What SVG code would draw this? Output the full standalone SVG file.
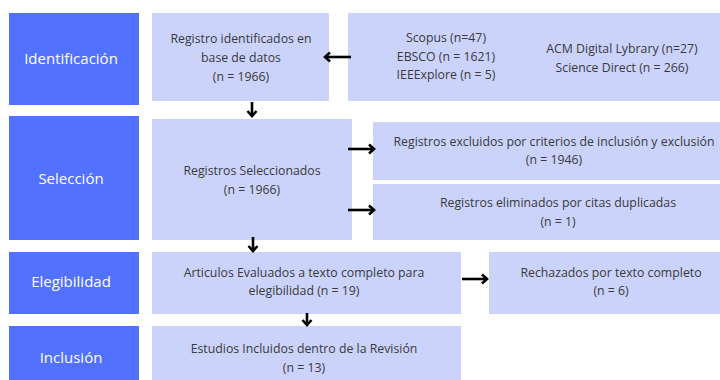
<svg xmlns="http://www.w3.org/2000/svg" width="720" height="380" viewBox="0 0 720 380">
<defs>
<style>
.stage{fill:#5271FF;}
.box{fill:#CBD3FB;}
.st{font-family:"Open Sans","Noto Sans",sans-serif;font-size:15px;fill:#FFFFFF;text-anchor:middle;dominant-baseline:central;}
.t{font-family:"Open Sans","Noto Sans",sans-serif;font-size:12.3px;fill:#3a3a3a;text-anchor:middle;dominant-baseline:central;}
.arr{stroke:#000;stroke-width:2.6;fill:none;marker-end:url(#head);}
</style>
<marker id="head" markerUnits="userSpaceOnUse" markerWidth="12" markerHeight="12" viewBox="0 0 12 12" refX="7" refY="6" orient="auto">
<path d="M2,1.5 L7,6 L2,10.5" fill="none" stroke="#000" stroke-width="2.6"/>
</marker>
</defs>
<rect width="720" height="380" fill="#FFFFFF"/>

<g id="stage-identificacion"><rect class="stage" x="9" y="13" width="130" height="92"/><text class="st" x="71" y="58">Identificación</text></g>
<g id="stage-seleccion"><rect class="stage" x="9" y="116" width="130" height="124"/><text class="st" x="71" y="178">Selección</text></g>
<g id="stage-elegibilidad"><rect class="stage" x="9" y="252" width="130" height="62"/><text class="st" x="71" y="281">Elegibilidad</text></g>
<g id="stage-inclusion"><rect class="stage" x="9" y="326" width="130" height="54"/><text class="st" x="71" y="357">Inclusión</text></g>

<g id="registro-identificados"><rect class="box" x="152" y="13" width="177" height="88"/>
<text class="t" x="241" y="38">Registro identificados en</text>
<text class="t" x="241" y="57">base de datos</text>
<text class="t" x="241" y="76">(n = 1966)</text></g>

<g id="bases-datos"><rect class="box" x="348" y="13" width="372" height="88"/>
<text class="t" x="446" y="37">Scopus (n=47)</text>
<text class="t" x="446" y="56">EBSCO (n = 1621)</text>
<text class="t" x="446" y="74">IEEExplore (n = 5)</text>
<text class="t" x="622" y="48">ACM Digital Lybrary (n=27)</text>
<text class="t" x="622" y="67">Science Direct (n = 266)</text></g>

<g id="registros-seleccionados"><rect class="box" x="152" y="119" width="200" height="121"/>
<text class="t" x="252" y="170">Registros Seleccionados</text>
<text class="t" x="252" y="189">(n = 1966)</text></g>

<g id="registros-excluidos"><rect class="box" x="373" y="122" width="347" height="58"/>
<text class="t" x="554" y="141">Registros excluidos por criterios de inclusión y exclusión</text>
<text class="t" x="554" y="159">(n = 1946)</text></g>

<g id="registros-eliminados"><rect class="box" x="373" y="184" width="347" height="56"/>
<text class="t" x="558" y="202">Registros eliminados por citas duplicadas</text>
<text class="t" x="558" y="221">(n = 1)</text></g>

<g id="articulos-evaluados"><rect class="box" x="152" y="252" width="309" height="62"/>
<text class="t" x="304" y="272">Articulos Evaluados a texto completo para</text>
<text class="t" x="304" y="290">elegibilidad (n = 19)</text></g>

<g id="rechazados"><rect class="box" x="489" y="252" width="231" height="62"/>
<text class="t" x="611" y="272">Rechazados por texto completo</text>
<text class="t" x="611" y="290">(n = 6)</text></g>

<g id="estudios-incluidos"><rect class="box" x="152" y="326" width="309" height="54"/>
<text class="t" x="304" y="348">Estudios Incluidos dentro de la Revisión</text>
<text class="t" x="304" y="367">(n = 13)</text></g>

<g id="connectors">
<path class="arr" d="M351,57 L325,57"/>
<path class="arr" d="M252,102 L252,116"/>
<path class="arr" d="M348,149 L374,149"/>
<path class="arr" d="M348,210 L374,210"/>
<path class="arr" d="M253,237 L253,251"/>
<path class="arr" d="M462,279 L487,279"/>
<path class="arr" d="M307,313 L307,325"/>
</g>
</svg>
